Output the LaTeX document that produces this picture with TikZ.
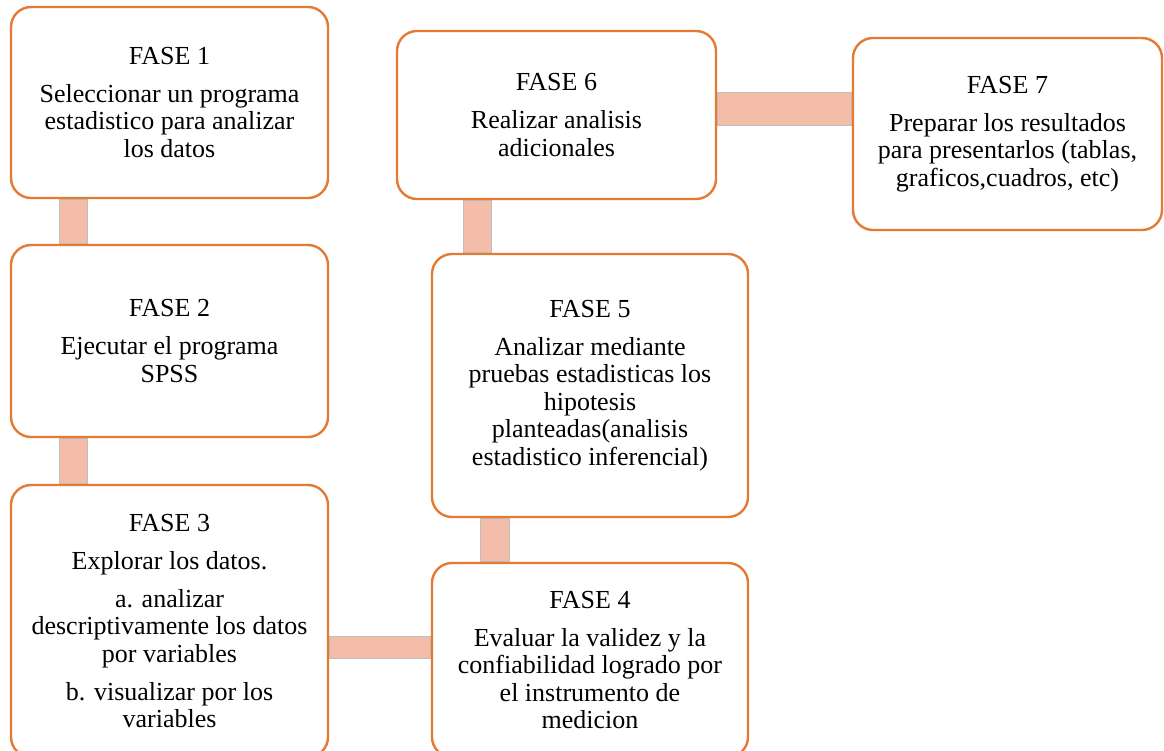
\documentclass[tikz,border=0pt]{standalone}
\usepackage{fontspec}
\setmainfont{Liberation Serif}
\usetikzlibrary{calc}
\pgfdeclarelayer{bg}
\pgfsetlayers{bg,main}
\definecolor{fborder}{HTML}{E57A35}
\definecolor{barfill}{HTML}{F4BDA9}
\definecolor{barline}{HTML}{BFBFBF}
\tikzset{
  fasebox/.style={draw=fborder, line width=2.4pt, fill=white, rounded corners=20pt,
    inner sep=0pt, align=center, text=black,
    font=\fontsize{26}{27.5}\selectfont},
  barlink/.style={fill=barfill, draw=barline, line width=0.8pt}
}
\begin{document}
\begin{tikzpicture}[x=1pt,y=-1pt]
\useasboundingbox (0,0) rectangle (1164,751);
\node[fasebox, minimum width=317, minimum height=191] (b1) at (169.5,102.5)
  {FASE 1\\[10.5pt]Seleccionar un programa\\estadistico para analizar\\los datos};
\node[fasebox, minimum width=317, minimum height=192] (b2) at (169.5,341)
  {FASE 2\\[10.5pt]Ejecutar el programa\\SPSS};
\node[fasebox, minimum width=317, minimum height=272] (b3) at (169.5,621)
  {FASE 3\\[10.5pt]Explorar los datos.\\[10.5pt]a. analizar\\descriptivamente los datos\\por variables\\[10.5pt]b. visualizar por los\\variables};
\node[fasebox, minimum width=316, minimum height=194] (b4) at (590,660)
  {FASE 4\\[10.5pt]Evaluar la validez y la\\confiabilidad logrado por\\el instrumento de\\medicion};
\node[fasebox, minimum width=316, minimum height=263] (b5) at (590,385.5)
  {FASE 5\\[10.5pt]Analizar mediante\\pruebas estadisticas los\\hipotesis\\planteadas(analisis\\estadistico inferencial)};
\node[fasebox, minimum width=319, minimum height=168] (b6) at (556.5,115)
  {FASE 6\\[10.5pt]Realizar analisis\\adicionales};
\node[fasebox, minimum width=309, minimum height=192] (b7) at (1007.5,134)
  {FASE 7\\[10.5pt]Preparar los resultados\\para presentarlos (tablas,\\graficos,cuadros, etc)};
\begin{pgfonlayer}{bg}
\draw[barlink] ($(b1.south west)+(50,0)$) rectangle ($(b2.north west)+(78,0)$);
\draw[barlink] ($(b2.south west)+(50,0)$) rectangle ($(b3.north west)+(78,0)$);
\draw[barlink] ($(b3.north east |- b4.north west)+(0,75)$) rectangle ($(b4.north west)+(0,97)$);
\draw[barlink] ($(b5.south west)+(50,0)$) rectangle ($(b4.north west)+(79,0)$);
\draw[barlink] ($(b6.south west -| b5.north west)+(33,0)$) rectangle ($(b5.north west)+(61,0)$);
\draw[barlink] ($(b6.east |- b7.north west)+(0,56)$) rectangle ($(b7.north west)+(0,89)$);
\end{pgfonlayer}
\end{tikzpicture}
\end{document}
